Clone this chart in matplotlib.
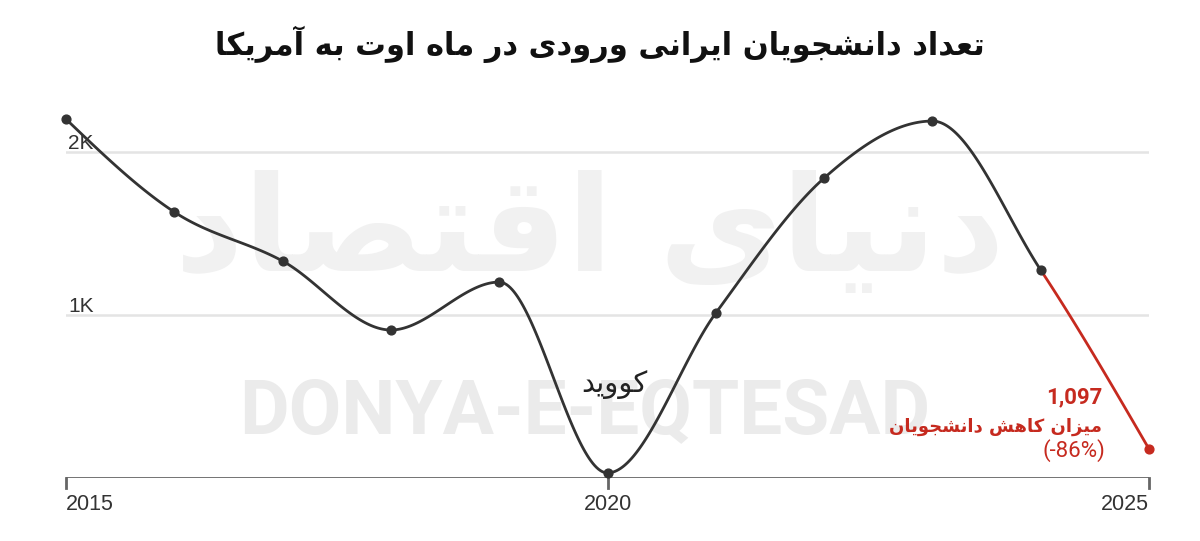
import numpy as np
import matplotlib.pyplot as plt

# تعداد دانشجویان ایرانی ورودی در ماه اوت به آمریکا
years = [2015, 2016, 2017, 2018, 2019, 2020, 2021, 2022, 2023, 2024, 2025]
students = [2202, 1632, 1331, 908, 1202, 31, 1012, 1840, 2190, 1276, 178]

title = "تعداد دانشجویان ایرانی ورودی در ماه اوت به \u0622مریکا"
covid_label = "کووید"
drop_value = "1,097"
drop_label = "میزان کاهش دانشجویان"
drop_pct = "(-86%)"
y_ticks = [1000, 2000]
y_labels = ["1K", "2K"]
x_ticks = [2015, 2020, 2025]

BLACK = "#333333"
RED = "#c62a1f"

# matplotlib has no arabic shaping -> map letters to presentation forms by hand
FORMS = {
    "\u0627": ("\uFE8D", "\uFE8E", None, None),
    "\u0622": ("\uFE81", "\uFE82", None, None),
    "\u0628": ("\uFE8F", "\uFE90", "\uFE91", "\uFE92"),
    "\u062A": ("\uFE95", "\uFE96", "\uFE97", "\uFE98"),
    "\u062C": ("\uFE9D", "\uFE9E", "\uFE9F", "\uFEA0"),
    "\u062F": ("\uFEA9", "\uFEAA", None, None),
    "\u0631": ("\uFEAD", "\uFEAE", None, None),
    "\u0632": ("\uFEAF", "\uFEB0", None, None),
    "\u0634": ("\uFEB5", "\uFEB6", "\uFEB7", "\uFEB8"),
    "\u0635": ("\uFEB9", "\uFEBA", "\uFEBB", "\uFEBC"),
    "\u0639": ("\uFEC9", "\uFECA", "\uFECB", "\uFECC"),
    "\u0642": ("\uFED5", "\uFED6", "\uFED7", "\uFED8"),
    "\u0645": ("\uFEE1", "\uFEE2", "\uFEE3", "\uFEE4"),
    "\u0646": ("\uFEE5", "\uFEE6", "\uFEE7", "\uFEE8"),
    "\u0647": ("\uFEE9", "\uFEEA", "\uFEEB", "\uFEEC"),
    "\u0648": ("\uFEED", "\uFEEE", None, None),
    "\u06CC": ("\uFBFC", "\uFBFD", "\uFBFE", "\uFBFF"),
    "\u06A9": ("\uFB8E", "\uFB8F", "\uFB90", "\uFB91"),
}


def fa(text):
    text = text.replace("\u064A", "\u06CC").replace("\u0643", "\u06A9")
    out = []
    for i, c in enumerate(text):
        if c not in FORMS:
            out.append(c)
            continue
        prev = text[i - 1] if i > 0 else ""
        nxt = text[i + 1] if i + 1 < len(text) else ""
        iso, fin, ini, med = FORMS[c]
        jp = prev in FORMS and FORMS[prev][2] is not None
        jn = ini is not None and nxt in FORMS
        if jp and jn:
            out.append(med)
        elif jp:
            out.append(fin)
        elif jn:
            out.append(ini)
        else:
            out.append(iso)
    return "".join(out)[::-1]


def monotone(x, y, n=60):
    # monotone cubic like d3.curveMonotoneX, returns one piece per interval
    x = np.asarray(x, float)
    y = np.asarray(y, float)
    h = np.diff(x)
    s = np.diff(y) / h
    t = np.zeros(len(x))
    for i in range(1, len(x) - 1):
        p = (s[i - 1] * h[i] + s[i] * h[i - 1]) / (h[i - 1] + h[i])
        t[i] = (np.sign(s[i - 1]) + np.sign(s[i])) * min(abs(s[i - 1]), abs(s[i]), 0.5 * abs(p))
    t[0] = (3 * s[0] - t[1]) / 2
    t[-1] = (3 * s[-1] - t[-2]) / 2
    pieces = []
    u = np.linspace(0, 1, n)
    for i in range(len(x) - 1):
        h00 = 2 * u**3 - 3 * u**2 + 1
        h10 = u**3 - 2 * u**2 + u
        h01 = -2 * u**3 + 3 * u**2
        h11 = u**3 - u**2
        yy = h00 * y[i] + h10 * h[i] * t[i] + h01 * y[i + 1] + h11 * h[i] * t[i + 1]
        pieces.append((x[i] + u * h[i], yy))
    return pieces


fig = plt.figure(figsize=(12, 5.41), dpi=100)
ax = fig.add_axes([0.055, 0.1165, 0.9025, 0.723])
ax.set_xlim(2015, 2025)
ax.set_ylim(0, 2400)
ax.axis("off")

# watermark
ax.text(2019.84, 1500, fa("دنیای اقتصاد"), fontsize=96, fontweight="bold",
        color="#f1f1f1", ha="center", va="center", zorder=0)
ax.text(2019.79, 400, "DONYA-E-EQTESAD", fontsize=55, fontweight="bold",
        family="Roboto", color="#ebebeb", ha="center", va="center", zorder=0)

for v, lab in zip(y_ticks, y_labels):
    ax.axhline(v, color="#e4e4e4", lw=1.8, zorder=1, xmax=1.002)
    ax.text(2015.02, v - 9, lab, fontsize=15, family="Liberation Sans",
            color=BLACK, ha="left", va="bottom", zorder=2)

ax.axhline(0, color="#666666", lw=2, zorder=2)
aligns = ["left", "center", "right"]
for xt, al in zip(x_ticks, aligns):
    ax.plot([xt, xt], [0, -60], color="#666666", lw=2, clip_on=False, zorder=2)
    ax.text(xt, -165, str(xt), fontsize=15.5, family="Liberation Sans",
            color=BLACK, ha=al, va="center")

pieces = monotone(years, students)
for i, (xx, yy) in enumerate(pieces):
    col = RED if i == len(pieces) - 1 else BLACK
    ax.plot(xx, yy, color=col, lw=2.0, clip_on=False, zorder=3, solid_capstyle="round")
ax.scatter(years[:-1], students[:-1], s=40, color=BLACK, zorder=4, clip_on=False)
ax.scatter(years[-1:], students[-1:], s=40, color=RED, zorder=4, clip_on=False)

ax.text(2020.06, 575, fa(covid_label), fontsize=21, color="#222222", ha="center", va="center")
ax.text(2024.57, 497, drop_value, fontsize=16, fontweight="bold", family="Roboto",
        color=RED, ha="right", va="center")
ax.text(2024.57, 313, fa(drop_label), fontsize=13, fontweight="bold", color=RED,
        ha="right", va="center")
ax.text(2024.6, 166, drop_pct, fontsize=16, family="Roboto", color=RED, ha="right", va="center")

fig.text(0.5, 0.918, fa(title), fontsize=22, fontweight="bold", color="#111111",
         ha="center", va="center")

fig.savefig("out.png", dpi=100)
